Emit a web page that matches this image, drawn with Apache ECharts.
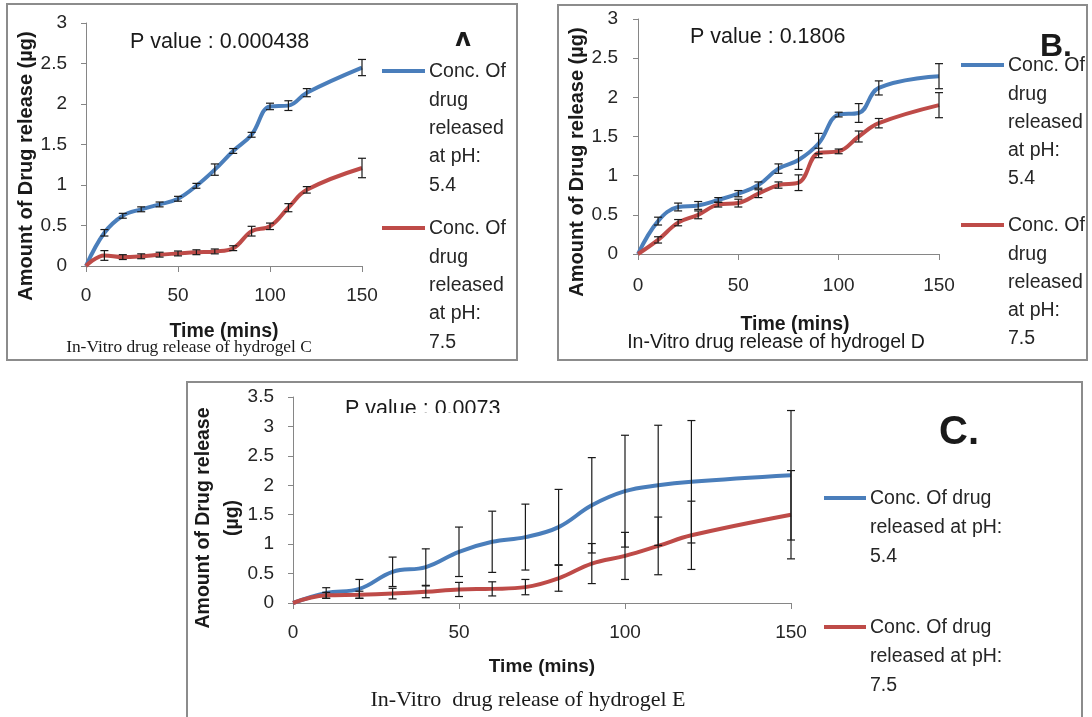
<!DOCTYPE html>
<html>
<head>
<meta charset="utf-8">
<script src="https://cdn.jsdelivr.net/npm/echarts@6/dist/echarts.min.js"></script>
<style>html,body{margin:0;padding:0;background:#fff;}#chart{width:1092px;height:717px;}</style>
</head>
<body>
<div id="chart"></div>
<script>
// ---- data ----
const timePoints = [0, 10, 20, 30, 40, 50, 60, 70, 80, 90, 100, 110, 120, 150];
const seriesNames = ['Conc. Of drug released at pH: 5.4', 'Conc. Of drug released at pH: 7.5'];

const hydrogelC_pH54 = [0, 0.41, 0.62, 0.70, 0.76, 0.83, 0.99, 1.19, 1.42, 1.62, 1.97, 1.98, 2.14, 2.45];
const hydrogelC_pH54_err = [0, 0.04, 0.03, 0.03, 0.03, 0.03, 0.03, 0.07, 0.03, 0.03, 0.04, 0.06, 0.05, 0.10];
const hydrogelC_pH75 = [0, 0.13, 0.11, 0.12, 0.14, 0.155, 0.17, 0.18, 0.22, 0.43, 0.49, 0.72, 0.94, 1.21];
const hydrogelC_pH75_err = [0, 0.06, 0.03, 0.03, 0.03, 0.03, 0.03, 0.03, 0.03, 0.06, 0.04, 0.05, 0.04, 0.12];

const hydrogelD_pH54 = [0, 0.42, 0.60, 0.62, 0.69, 0.77, 0.88, 1.09, 1.20, 1.41, 1.78, 1.80, 2.12, 2.27];
const hydrogelD_pH54_err = [0, 0.05, 0.05, 0.05, 0.03, 0.04, 0.04, 0.06, 0.12, 0.13, 0.03, 0.12, 0.09, 0.16];
const hydrogelD_pH75 = [0, 0.18, 0.40, 0.50, 0.63, 0.65, 0.77, 0.88, 0.91, 1.29, 1.31, 1.50, 1.67, 1.90];
const hydrogelD_pH75_err = [0, 0.04, 0.04, 0.05, 0.03, 0.05, 0.05, 0.04, 0.10, 0.06, 0.03, 0.07, 0.06, 0.16];

const hydrogelE_pH54 = [0, 0.17, 0.24, 0.53, 0.61, 0.87, 1.04, 1.12, 1.29, 1.66, 1.90, 2.00, 2.06, 2.17];
const hydrogelE_pH54_err = [0, 0.09, 0.16, 0.25, 0.31, 0.42, 0.52, 0.56, 0.64, 0.81, 0.95, 1.02, 1.04, 1.10];
const hydrogelE_pH75 = [0, 0.13, 0.14, 0.16, 0.19, 0.23, 0.24, 0.27, 0.42, 0.67, 0.80, 0.97, 1.15, 1.50];
const hydrogelE_pH75_err = [0, 0.05, 0.06, 0.09, 0.10, 0.12, 0.12, 0.13, 0.22, 0.34, 0.40, 0.49, 0.58, 0.75];

const pValues = ['P value : 0.000438', 'P value : 0.1806', 'P value : 0.0073'];
const captions = ['In-Vitro drug release of hydrogel C', 'In-Vitro drug release of hydrogel D', 'In-Vitro  drug release of hydrogel E'];
const panelLetters = ['ʌ', 'B.', 'C.'];
const xTitle = 'Time (mins)';
const yTitle = 'Amount of Drug release (µg)';
const yTitleC = 'Amount of Drug release\n(µg)';
const legendLabelsNarrow = ['Conc. Of\ndrug\nreleased\nat pH:\n5.4', 'Conc. Of\ndrug\nreleased\nat pH:\n7.5'];
const legendLabelsWide = ['Conc. Of drug\nreleased at pH:\n5.4', 'Conc. Of drug\nreleased at pH:\n7.5'];

// ---- styling ----
const BLUE = '#4A7EBB';
const RED = '#BE4B48';
const AXIS = '#868686';
const SANS = '"Liberation Sans", Arial, sans-serif';
const SERIF = '"Liberation Serif", "Times New Roman", serif';

const chart = echarts.init(document.getElementById('chart'), null, {renderer: 'canvas'});

function pairs(xs, ys) { return xs.map((x, i) => [x, ys[i]]); }
function errData(xs, ys, es) {
  return xs.map((x, i) => [x, ys[i] - es[i], ys[i] + es[i], es[i]]);
}
function errRender(params, api) {
  const x = api.value(0), lo = api.value(1), hi = api.value(2), e = api.value(3);
  if (!(e > 0)) return null;
  const p1 = api.coord([x, hi]), p2 = api.coord([x, lo]);
  const w = 4;
  const st = {stroke: '#1a1a1a', lineWidth: 1.2};
  return {type: 'group', children: [
    {type: 'line', shape: {x1: p1[0], y1: p1[1], x2: p2[0], y2: p2[1]}, style: st},
    {type: 'line', shape: {x1: p1[0] - w, y1: p1[1], x2: p1[0] + w, y2: p1[1]}, style: st},
    {type: 'line', shape: {x1: p2[0] - w, y1: p2[1], x2: p2[0] + w, y2: p2[1]}, style: st}
  ]};
}

const grids = [
  {left: 86, top: 23, width: 276, height: 243},
  {left: 638, top: 19, width: 301, height: 235},
  {left: 293, top: 397, width: 498, height: 206}
];
const yMax = [3, 3, 3.5];
const labelMargin = [[20, 19], [22, 20], [20, 19]];

const xAxes = grids.map((g, i) => ({
  type: 'value', gridIndex: i, min: 0, max: 150, interval: 50,
  axisLine: {lineStyle: {color: AXIS, width: 1}},
  axisTick: {show: true, length: 6, lineStyle: {color: AXIS}},
  splitLine: {show: false},
  axisLabel: {color: '#262626', fontSize: 19, fontFamily: SANS, margin: labelMargin[i][0]}
}));
const yAxes = grids.map((g, i) => ({
  type: 'value', gridIndex: i, min: 0, max: yMax[i], interval: 0.5,
  axisLine: {show: true, lineStyle: {color: AXIS, width: 1}},
  axisTick: {show: true, length: 5, lineStyle: {color: AXIS}},
  splitLine: {show: false},
  axisLabel: {color: '#262626', fontSize: 19, fontFamily: SANS, margin: labelMargin[i][1]}
}));

const panelData = [
  [hydrogelC_pH54, hydrogelC_pH54_err, hydrogelC_pH75, hydrogelC_pH75_err],
  [hydrogelD_pH54, hydrogelD_pH54_err, hydrogelD_pH75, hydrogelD_pH75_err],
  [hydrogelE_pH54, hydrogelE_pH54_err, hydrogelE_pH75, hydrogelE_pH75_err]
];
const series = [];
panelData.forEach((d, i) => {
  [[d[0], d[1], BLUE, seriesNames[0]], [d[2], d[3], RED, seriesNames[1]]].forEach(([vals, errs, col, name]) => {
    series.push({
      type: 'line', name: name, xAxisIndex: i, yAxisIndex: i,
      data: pairs(timePoints, vals), smooth: 0.4, showSymbol: false, symbol: 'none',
      lineStyle: {color: col, width: 4}, itemStyle: {color: col}, z: 2, silent: true
    });
  });
  [[d[0], d[1]], [d[2], d[3]]].forEach(([vals, errs]) => {
    series.push({
      type: 'custom', xAxisIndex: i, yAxisIndex: i,
      data: errData(timePoints, vals, errs), renderItem: errRender,
      encode: {x: 0, y: [1, 2]}, z: 5, silent: true
    });
  });
});

function txt(x, y, text, font, opts) {
  opts = opts || {};
  return {type: 'text', x: x, y: y, rotation: opts.rotation || 0, z: opts.z || 10,
    style: {text: text, font: font, fill: opts.fill || '#1a1a1a', align: opts.align || 'center',
      verticalAlign: opts.valign || 'middle', lineHeight: opts.lineHeight}};
}
function legendBlock(x1, x2, y, textX, text, color, lh) {
  return [
    {type: 'line', z: 10, shape: {x1: x1, y1: y, x2: x2, y2: y}, style: {stroke: color, lineWidth: 4}},
    txt(textX, y - lh / 2 + 1, text, '19.5px ' + SANS, {align: 'left', valign: 'top', lineHeight: lh, fill: '#262626'})
  ];
}

const graphic = [
  // panel borders
  {type: 'rect', z: 1, shape: {x: 7, y: 4, width: 510, height: 356}, style: {fill: 'none', stroke: '#8c8c8c', lineWidth: 2}},
  {type: 'rect', z: 1, shape: {x: 558, y: 5, width: 529, height: 355}, style: {fill: 'none', stroke: '#8c8c8c', lineWidth: 2}},
  {type: 'rect', z: 1, shape: {x: 187, y: 382, width: 895, height: 350}, style: {fill: 'none', stroke: '#8c8c8c', lineWidth: 2}},
  // P values
  txt(130, 42, pValues[0], '21.5px ' + SANS, {align: 'left'}),
  txt(690, 37, pValues[1], '21.5px ' + SANS, {align: 'left'}),
  txt(345, 409, pValues[2], '21.5px ' + SANS, {align: 'left', z: 10}),
  {type: 'rect', z: 20, shape: {x: 338, y: 413, width: 180, height: 11}, style: {fill: '#ffffff'}},
  // panel letters
  txt(463, 40, panelLetters[0], 'bold 24px "DejaVu Sans", sans-serif'),
  txt(1040, 47, panelLetters[1], 'bold 32px ' + SANS, {align: 'left'}),
  txt(939, 433, panelLetters[2], 'bold 40px ' + SANS, {align: 'left'}),
  // axis titles
  txt(26, 166, yTitle, 'bold 20px ' + SANS, {rotation: Math.PI / 2}),
  txt(577, 162, yTitle, 'bold 20px ' + SANS, {rotation: Math.PI / 2}),
  txt(218, 518, yTitleC, 'bold 19.5px ' + SANS, {rotation: Math.PI / 2, lineHeight: 29}),
  txt(224, 332, xTitle, 'bold 19.5px ' + SANS),
  txt(795, 325, xTitle, 'bold 19.5px ' + SANS),
  txt(542, 667, xTitle, 'bold 19px ' + SANS),
  // captions
  txt(189, 347, captions[0], '17.4px ' + SERIF),
  txt(776, 343, captions[1], '19.5px ' + SANS),
  txt(528, 700, captions[2], '22px ' + SERIF)
]
  .concat(legendBlock(382, 425, 71, 429, legendLabelsNarrow[0], BLUE, 28.3))
  .concat(legendBlock(382, 425, 228, 429, legendLabelsNarrow[1], RED, 28.3))
  .concat(legendBlock(961, 1004, 65, 1008, legendLabelsNarrow[0], BLUE, 28.2))
  .concat(legendBlock(961, 1004, 225, 1008, legendLabelsNarrow[1], RED, 28.2))
  .concat(legendBlock(824, 866, 498, 870, legendLabelsWide[0], BLUE, 29))
  .concat(legendBlock(824, 866, 627, 870, legendLabelsWide[1], RED, 29));

chart.setOption({
  animation: false,
  backgroundColor: '#ffffff',
  grid: grids,
  xAxis: xAxes,
  yAxis: yAxes,
  series: series,
  graphic: graphic
});
</script>
</body>
</html>
